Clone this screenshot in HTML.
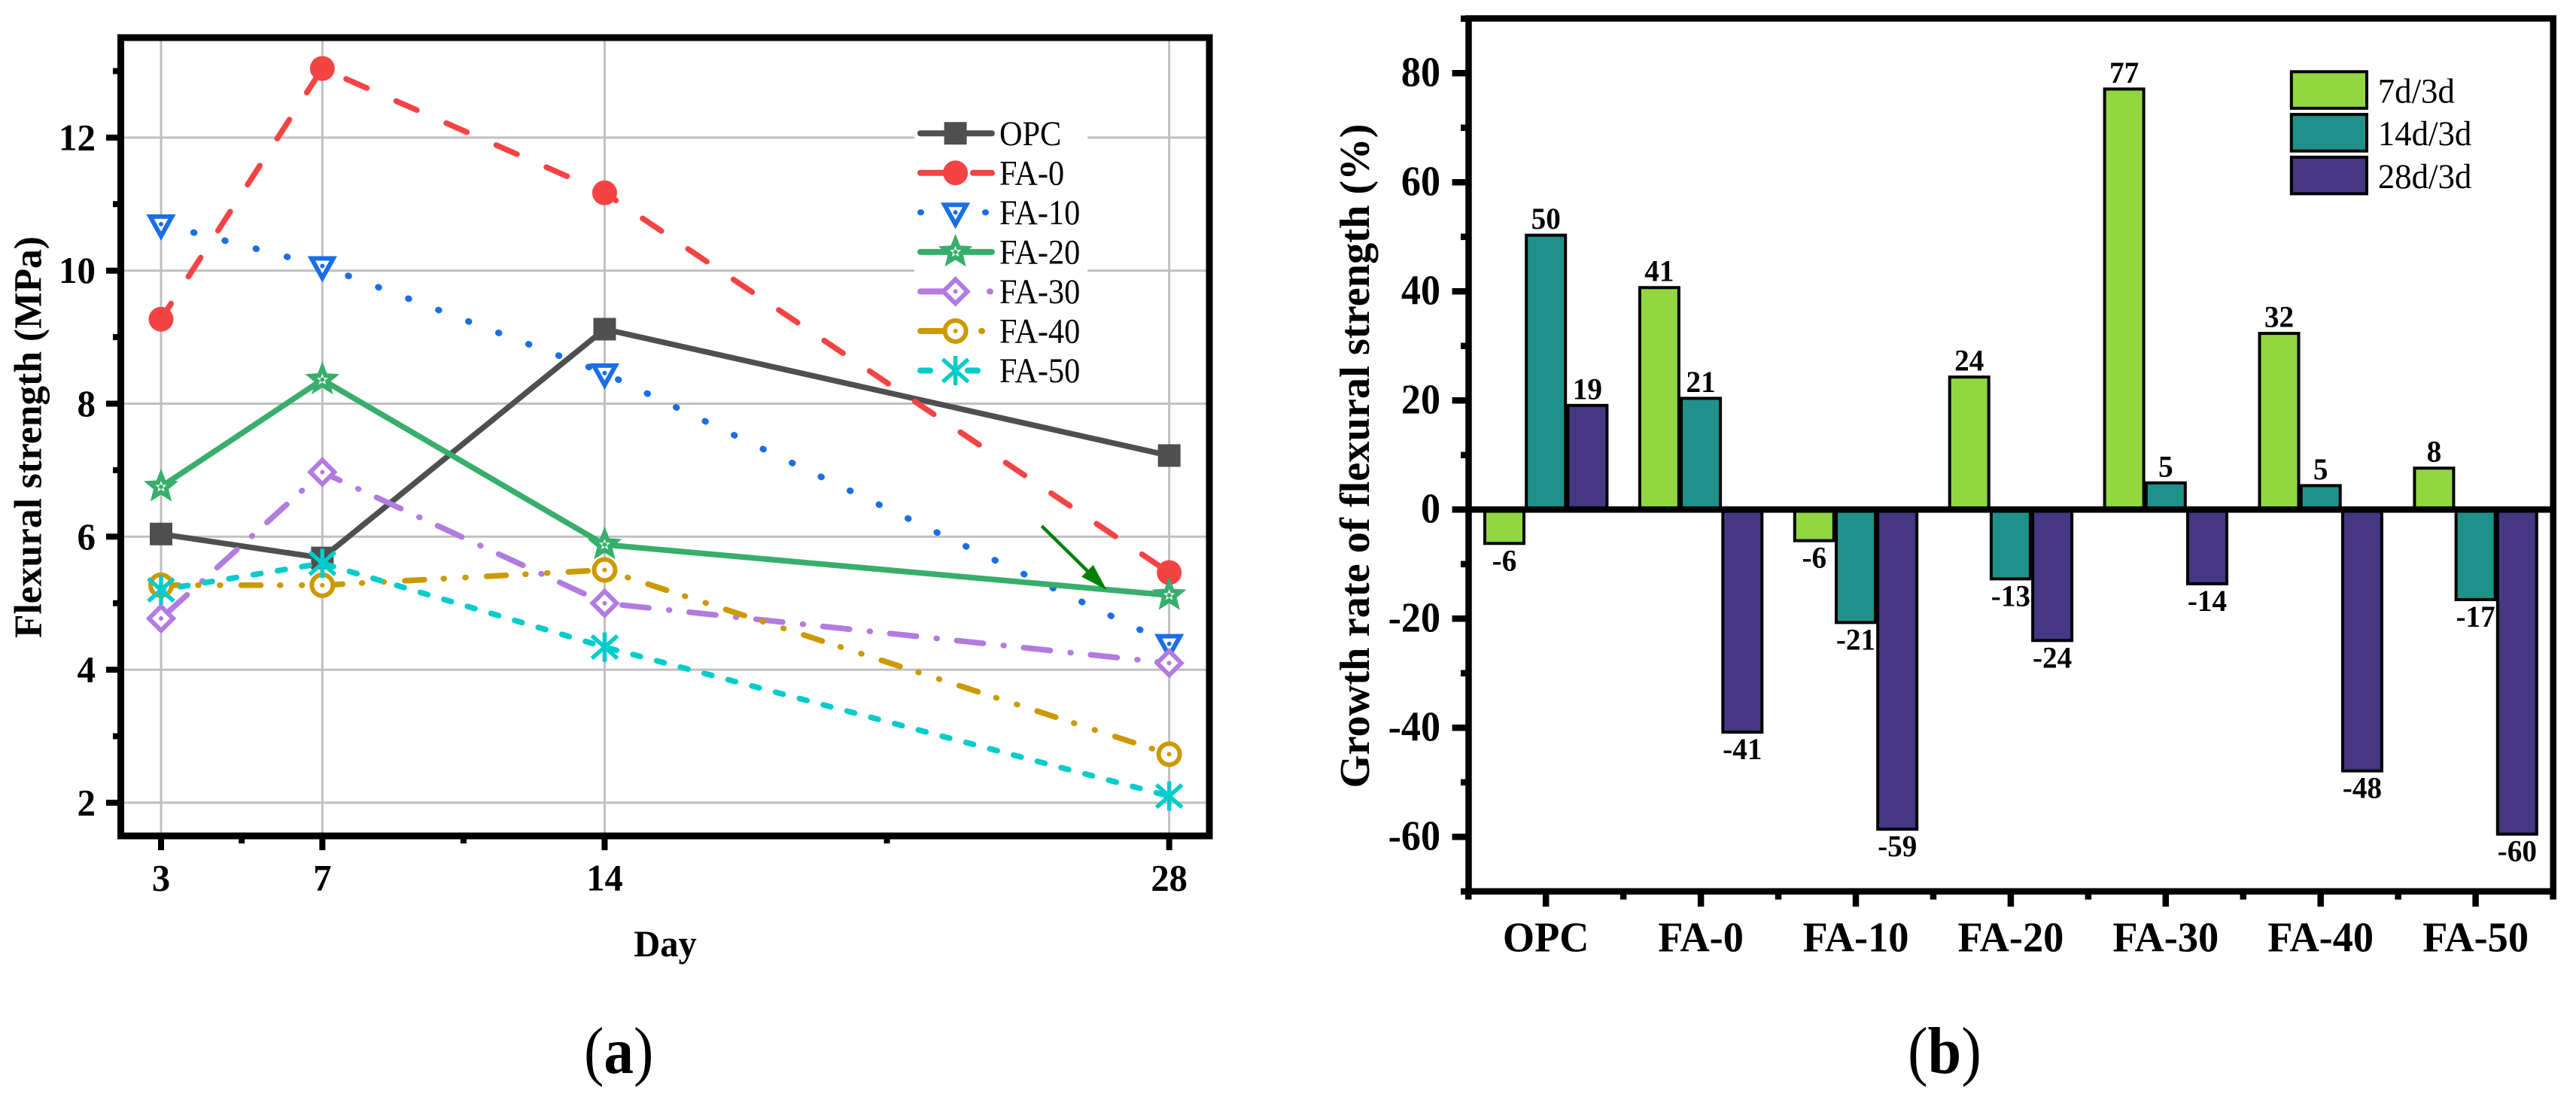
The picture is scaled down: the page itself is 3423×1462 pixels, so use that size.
<!DOCTYPE html>
<html lang="en">
<head>
<meta charset="utf-8">
<title>Flexural strength and growth rate charts</title>
<style>
  html, body { margin: 0; padding: 0; background: #fff; }
  svg { display: block; font-family: "Liberation Serif", "Times New Roman", serif; fill: #000; }
</style>
</head>
<body>
<svg id="figure" xmlns="http://www.w3.org/2000/svg" width="3423" height="1462" viewBox="0 0 3423 1462">
  <rect x="0" y="0" width="3423" height="1462" fill="#fff"/>
  <g id="chart-a"></g>
  <g id="chart-b"></g>
  <text transform="translate(54.5,848) rotate(-90)" font-size="51.5" font-weight="700">Flexural strength (MPa)</text>
  <text transform="translate(884,1271) scale(0.97,1)" text-anchor="middle" font-size="50" font-weight="700">Day</text>
  <text transform="translate(1818.8,1047.4) rotate(-90)" font-size="56.4" font-weight="700">Growth rate of flexural strength (%)</text>
  <text transform="translate(776,1426) scale(0.9,1)" font-size="88">(<tspan font-weight="700">a</tspan>)</text>
  <text transform="translate(2535,1426) scale(0.91,1)" font-size="88">(<tspan font-weight="700">b</tspan>)</text>
</svg>
<script>
// ---- Chart (a) data ----
const days = [3, 7, 14, 28];
const opcStrength = [6.04, 5.68, 9.12, 7.22];
const fa0Strength = [9.27, 13.04, 11.17, 5.46];
const fa10Strength = [10.70, 10.07, 8.46, 4.39];
const fa20Strength = [6.75, 8.36, 5.88, 5.12];
const fa30Strength = [4.77, 6.97, 5.00, 4.10];
const fa40Strength = [5.27, 5.27, 5.50, 2.73];
const fa50Strength = [5.20, 5.60, 4.34, 2.10];
const lineSeriesNames = ['OPC', 'FA-0', 'FA-10', 'FA-20', 'FA-30', 'FA-40', 'FA-50'];
const yTicksA = [2, 4, 6, 8, 10, 12];
const yMinorA = [3, 5, 7, 9, 11, 13];
const xMinorA = [5, 10.5, 21];
const arrowTailDayValue = [24.84, 6.16];
const arrowTipDayValue = [26.45, 5.2];

// ---- Chart (b) data ----
const categories = ['OPC', 'FA-0', 'FA-10', 'FA-20', 'FA-30', 'FA-40', 'FA-50'];
const growth7d = [-6.2, 40.7, -5.7, 24.3, 77.1, 32.3, 7.6];
const growth14d = [50.3, 20.4, -20.7, -12.7, 4.9, 4.4, -16.5];
const growth28d = [19.1, -40.8, -58.6, -24.0, -13.6, -47.9, -59.5];
const printed7d = ['-6', '41', '-6', '24', '77', '32', '8'];
const printed14d = ['50', '21', '-21', '-13', '5', '5', '-17'];
const printed28d = ['19', '-41', '-59', '-24', '-14', '-48', '-60'];
const barSeriesNames = ['7d/3d', '14d/3d', '28d/3d'];
const yTicksB = [-60, -40, -20, 0, 20, 40, 60, 80];
const yMinorB = [-70, -50, -30, -10, 10, 30, 50, 70, 90];

// ---- Axis functions ----
const xA = d => 214 + (d - 3) * 53.586;
const yA = v => 1066.9 - (v - 2) * 88.4;
const yB = v => 677.3 - v * 7.25;
const xB = i => 2054.2 + i * 205.9;

const SVGNS = 'http://www.w3.org/2000/svg';
function mk(parent, tag, attrs) {
  const n = document.createElementNS(SVGNS, tag);
  for (const k in attrs) n.setAttribute(k, attrs[k]);
  parent.appendChild(n);
  return n;
}
function txt(parent, x, y, str, size, weight, anchor, sx) {
  const n = mk(parent, 'text', {
    transform: 'translate(' + x + ',' + y + ') scale(' + sx + ',1)',
    'font-size': size, 'font-weight': weight, 'text-anchor': anchor
  });
  n.textContent = str;
  return n;
}
function line(parent, x1, y1, x2, y2, stroke, w) {
  return mk(parent, 'line', { x1: x1, y1: y1, x2: x2, y2: y2, stroke: stroke, 'stroke-width': w });
}

// Marker painters: each draws one symbol centred on (cx, cy)
function drawMarker(parent, kind, cx, cy, color) {
  const g = mk(parent, 'g', { transform: 'translate(' + cx + ',' + cy + ')' });
  const dot = () => mk(g, 'circle', { r: 3, fill: color });
  if (kind === 'square') {
    mk(g, 'rect', { x: -15, y: -15, width: 30, height: 30, fill: color });
  } else if (kind === 'disc') {
    mk(g, 'circle', { r: 16.5, fill: color });
  } else if (kind === 'tri') {
    mk(g, 'path', { d: 'M-14.5,-10 L14.5,-10 L0,16 Z', fill: '#fff', stroke: color, 'stroke-width': 6 });
    dot();
  } else if (kind === 'star') {
    let d = '';
    for (let i = 0; i < 10; i++) {
      const r = i % 2 ? 7 : 16;
      const a = -Math.PI / 2 + i * Math.PI / 5;
      d += (i ? 'L' : 'M') + (r * Math.cos(a)).toFixed(2) + ',' + (r * Math.sin(a)).toFixed(2);
    }
    mk(g, 'path', { d: d + 'Z', fill: '#fff', stroke: color, 'stroke-width': 6, 'stroke-linejoin': 'miter', 'stroke-miterlimit': 6 });
    dot();
  } else if (kind === 'diamond') {
    mk(g, 'path', { d: 'M0,-16 L16,0 L0,16 L-16,0 Z', fill: '#fff', stroke: color, 'stroke-width': 6 });
    dot();
  } else if (kind === 'ring') {
    mk(g, 'circle', { r: 14, fill: '#fff', stroke: color, 'stroke-width': 6 });
    dot();
  } else if (kind === 'aster') {
    line(g, 0, -19.5, 0, 19.5, color, 5.5);
    line(g, -17, -15, 17, 15, color, 5.5);
    line(g, -17, 15, 17, -15, color, 5.5);
  }
  return g;
}

// ---- Chart (a) ----
const a = document.getElementById('chart-a');
const lineSeriesValues = [opcStrength, fa0Strength, fa10Strength, fa20Strength, fa30Strength, fa40Strength, fa50Strength];
const lineColors = ['#4f4f4f', '#f44343', '#1a6ee6', '#38ae6c', '#b27be0', '#cc9900', '#00cccc'];
const lineMarkers = ['square', 'disc', 'tri', 'star', 'diamond', 'ring', 'aster'];
const lineDashes = ['none', '30 42.7', '1 41.7', 'none', '35.5 26.65 1 26.25', '26 25.25 1 27.9 1 27.65', '10.3 22.4'];
const lineDashOffsets = [0, 5.45, 40.8, 0, 78.15, 2.25, 6.7];
const lineCaps = ['butt', 'round', 'round', 'butt', 'round', 'round', 'round'];
const lineWidths = [7.5, 7.5, 8.5, 7.5, 7.5, 7.5, 7.5];
const legendDashes = ['none', '32 38 28 100', '1 85 1 100', 'none', '30 62 1 100', '30 51 1 100', '13 50 13 100'];

days.forEach(d => {
  const g = line(a, xA(d), 50, xA(d), 1111, '#bfbfbf', 3);
  
  
});
yTicksA.forEach(v => {
  const g = line(a, 160, yA(v), 1607, yA(v), '#bfbfbf', 3);
  
  
});

const frameA = mk(a, 'rect', { x: 160.5, y: 50, width: 1446.5, height: 1061, fill: 'none', stroke: '#000', 'stroke-width': 9 });



yTicksA.forEach(v => {
  const t = line(a, 141, yA(v), 160, yA(v), '#000', 8);
  
  
  const l = txt(a, 127, yA(v) + 16.5, String(v), 50, 700, 'end', 0.98);
  
  
});
yMinorA.forEach(v => {
  const t = line(a, 150, yA(v), 160, yA(v), '#000', 8);
  
  
});
days.forEach(d => {
  const t = line(a, xA(d), 1111, xA(d), 1130, '#000', 8);
  
  
  const l = txt(a, xA(d), 1183.5, String(d), 50, 700, 'middle', 0.97);
  
  
});
xMinorA.forEach(d => {
  const t = line(a, xA(d), 1111, xA(d), 1121, '#000', 8);
  
  
});

// legend (a)
const legendA = mk(a, 'g', {});


const legendBg = mk(legendA, 'rect', { x: 1215, y: 156, width: 230, height: 364, fill: '#fff' });


lineSeriesNames.forEach((name, i) => {
  const y = 177.2 + i * 52.55;
  const slug = name.toLowerCase();
  const row = mk(legendA, 'g', {});
  
  
  const sample = line(row, 1223, y, 1318, y, lineColors[i], 8);
  sample.setAttribute('stroke-linecap', 'round');
  if (legendDashes[i] !== 'none') sample.setAttribute('stroke-dasharray', legendDashes[i]);
  
  
  const sym = drawMarker(row, lineMarkers[i], 1269.6, y, lineColors[i]);
  
  
  const lab = txt(row, 1328, y + 15.7, name, 47, 400, 'start', 0.9);
  
  
});

// series (a)
lineSeriesNames.forEach((name, i) => {
  const slug = name.toLowerCase();
  const vals = lineSeriesValues[i];
  const g = mk(a, 'g', {});
  
  
  const pts = days.map((d, k) => xA(d).toFixed(1) + ',' + yA(vals[k]).toFixed(1)).join(' ');
  const pl = mk(g, 'polyline', { points: pts, fill: 'none', stroke: lineColors[i], 'stroke-width': lineWidths[i], 'stroke-linecap': lineCaps[i], 'stroke-linejoin': 'round' });
  if (lineDashes[i] !== 'none') {
    pl.setAttribute('stroke-dasharray', lineDashes[i]);
    pl.setAttribute('stroke-dashoffset', lineDashOffsets[i]);
  }
  
  
  days.forEach((d, k) => {
    const m = drawMarker(g, lineMarkers[i], xA(d), yA(vals[k]), lineColors[i]);
    
    
  });
});

// annotation arrow
const arrow = mk(a, 'g', {});


(function () {
  const x1 = xA(arrowTailDayValue[0]), y1 = yA(arrowTailDayValue[1]);
  const x2 = xA(arrowTipDayValue[0]), y2 = yA(arrowTipDayValue[1]);
  const len = Math.hypot(x2 - x1, y2 - y1);
  const ux = (x2 - x1) / len, uy = (y2 - y1) / len;
  const hl = 36, hw = 11;
  const bx = x2 - ux * hl, by = y2 - uy * hl;
  line(arrow, x1, y1, bx, by, '#008000', 4.5);
  mk(arrow, 'polygon', {
    points: x2 + ',' + y2 + ' ' + (bx - uy * hw) + ',' + (by + ux * hw) + ' ' + (bx + uy * hw) + ',' + (by - ux * hw),
    fill: '#008000'
  });
})();

// ---- Chart (b) ----
const b = document.getElementById('chart-b');
const barSeriesValues = [growth7d, growth14d, growth28d];
const barPrinted = [printed7d, printed14d, printed28d];
const barColors = ['#92d642', '#1f918b', '#453781'];

const frameB = mk(b, 'rect', { x: 1951.5, y: 24.5, width: 1441.2, height: 1160.2, fill: 'none', stroke: '#000', 'stroke-width': 8.5 });



yTicksB.forEach(v => {
  const t = line(b, 1929.6, yB(v), 1951.5, yB(v), '#000', 8.5);
  
  
  const l = txt(b, 1914, yB(v) + 17, String(v), 56, 700, 'end', 0.93);
  
  
});
yMinorB.forEach(v => {
  const t = line(b, 1941, yB(v), 1951.5, yB(v), '#000', 8.5);
  
  
});
categories.forEach((c, i) => {
  const t = line(b, xB(i), 1184.7, xB(i), 1205, '#000', 8.5);
  
  
  const l = txt(b, xB(i), 1264.6, c, 56, 700, 'middle', 0.97);
  
  
});
for (let i = 0; i <= categories.length; i++) {
  const t = line(b, xB(i - 0.5), 1184.7, xB(i - 0.5), 1195.6, '#000', 8.5);
  
  
}

barSeriesNames.forEach((name, j) => {
  const slug = name.replace(/\//g, '-');
  const g = mk(b, 'g', {});
  
  
  categories.forEach((c, i) => {
    const v = barSeriesValues[j][i];
    const cx = xB(i) + (j - 1) * 55.2;
    const top = Math.min(yB(0), yB(v));
    const h = Math.abs(yB(v) - yB(0));
    const r = mk(g, 'rect', { x: cx - 26, y: top, width: 52, height: h, fill: barColors[j], stroke: '#000', 'stroke-width': 4 });
    
    
    const ly = v >= 0 ? yB(v) - 8.5 : yB(v) + 36;
    const l = txt(g, cx, ly, barPrinted[j][i], 40, 700, 'middle', 0.98);
    
    
  });
});

const zero = line(b, 1951.5, yB(0), 3392.7, yB(0), '#000', 8.5);



const legendB = mk(b, 'g', {});


barSeriesNames.forEach((name, j) => {
  const slug = name.replace(/\//g, '-');
  const y = 95.3 + j * 56.8;
  const row = mk(legendB, 'g', {});
  
  
  const s = mk(row, 'rect', { x: 3044.8, y: y, width: 100.2, height: 48.6, fill: barColors[j], stroke: '#000', 'stroke-width': 4 });
  
  
  const l = txt(row, 3159.7, y + 41, name, 47, 400, 'start', 0.955);
  
  
});
</script>
</body>
</html>
